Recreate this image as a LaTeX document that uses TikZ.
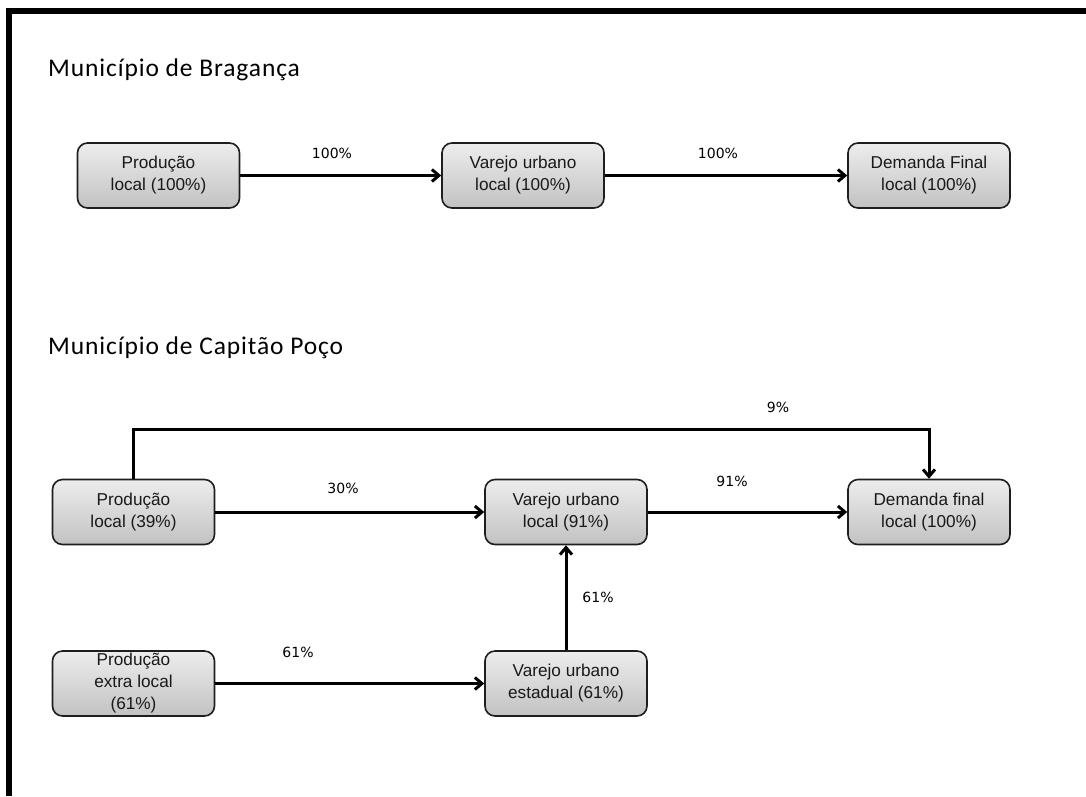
\documentclass[tikz,border=0pt]{standalone}
\usepackage{fontspec}
\setmainfont{Liberation Sans}
\newfontfamily\titlefont{Carlito}[LetterSpace=3.5]
\newfontfamily\pctfont{DejaVu Sans}
\usetikzlibrary{arrows.meta,calc}

\definecolor{boxtop}{HTML}{EDEDED}
\definecolor{boxbot}{HTML}{C2C2C2}
\definecolor{boxline}{HTML}{1E1E1E}

\tikzset{
  flowbox/.style={rectangle, rounded corners=10pt, draw=boxline, line width=1.6pt,
    top color=boxtop, bottom color=boxbot, minimum width=162pt, minimum height=65pt,
    inner sep=0pt, align=center, font=\fontsize{17.2}{22}\selectfont, text=black!90},
  flow/.style={line width=3pt, -{Straight Barb[length=7pt,width=12pt,line width=3pt]}},
  pct/.style={font=\pctfont\fontsize{14}{16}\selectfont, inner sep=0pt},
  heading/.style={font=\titlefont\fontsize{25.5}{28}\selectfont, anchor=base west, inner sep=0pt}
}

\begin{document}
\begin{tikzpicture}[x=1pt, y=-1pt]
  \useasboundingbox (0,0) rectangle (1086,796);
  \fill[white] (0,0) rectangle (1086,796);

  % frame along the top and left edges
  \draw[line width=6pt] (9,796) -- (9,11) -- (1086,11);

  % Bragança
  \node[heading] (t1) at (48,76) {Município de Bragança};
  \node[flowbox] (b1) at (158.5,175.5) {Produção\\local (100\%)};
  \node[flowbox] (b2) at (523,175.5) {Varejo urbano\\local (100\%)};
  \node[flowbox] (b3) at (929,175.5) {Demanda Final\\local (100\%)};
  \draw[flow] (b1) -- (b2);
  \draw[flow] (b2) -- (b3);
  \node[pct] (p1) at (332,153) {100\%};
  \node[pct] (p2) at (718,153) {100\%};

  % Capitão Poço
  \node[heading] (t2) at (48,354) {Município de Capitão Poço};
  \node[flowbox] (c1) at (133.5,512) {Produção\\local (39\%)};
  \node[flowbox] (c2) at (566,512) {Varejo urbano\\local (91\%)};
  \node[flowbox] (c3) at (929,512) {Demanda final\\local (100\%)};
  \node[flowbox] (c4) at (133.5,683.5) {Produção\\extra local\\(61\%)};
  \node[flowbox] (c5) at (566,683.5) {Varejo urbano\\estadual (61\%)};

  \coordinate (ytop) at (500,429);
  \draw[flow] (c1.north) |- (ytop) -| (c3.north);
  \draw[flow] (c1) -- (c2);
  \draw[flow] (c2) -- (c3);
  \draw[flow] (c4) -- (c5);
  \draw[flow] (c5) -- (c2);

  \node[pct] (p3) at (778,407) {9\%};
  \node[pct] (p4) at (343,488) {30\%};
  \node[pct] (p5) at (732,481) {91\%};
  \node[pct] (p6) at (598,597) {61\%};
  \node[pct] (p7) at (298,652) {61\%};
\end{tikzpicture}
\end{document}
